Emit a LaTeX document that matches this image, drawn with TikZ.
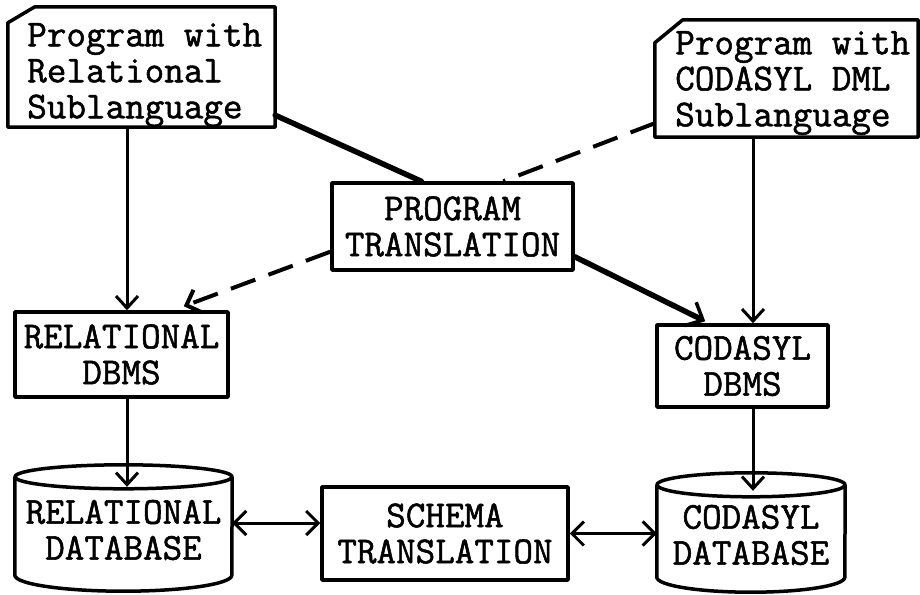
\documentclass[tikz,border=0pt]{standalone}
\usepackage{fontspec}
\newfontfamily\twfont{Latin Modern Mono}[FakeBold=1.4]
\usetikzlibrary{arrows.meta,calc}
\begin{document}
\begin{tikzpicture}[x=1pt,y=-1pt,
  txt/.style={inner sep=0pt, align=center, font=\fontsize{38}{36}\selectfont\twfont},
  toptxt/.style={inner sep=0pt, align=left, font=\fontsize{38}{36}\selectfont\twfont},
  frame/.style={inner sep=0pt},
  box/.style={txt, draw, line width=3.5pt, line join=round},
  border/.style={line width=3.5pt, line join=round},
  thinarrow/.style={line width=3pt, -{Straight Barb[length=12pt,width=22pt]}},
  dblarrow/.style={line width=3pt, {Straight Barb[length=12pt,width=24pt]}-{Straight Barb[length=12pt,width=24pt]}},
  boldline/.style={line width=5.5pt, line cap=round},
  dashline/.style={line width=4pt, dash pattern=on 26pt off 14pt}]
\useasboundingbox (0,0) rectangle (920,594);
\fill[white] (0,0) rectangle (920,594);

% program boxes (frame + text)
\node[frame, minimum width=267pt, minimum height=120pt] (prl) at (141.5,67) {};
\node[toptxt] (prlt) at (144.7,75) {Program with\\Relational\\Sublanguage};
\node[frame, minimum width=263pt, minimum height=117pt] (pcd) at (786.5,78.5) {};
\node[toptxt] (pcdt) at (792.7,83) {Program with\\CODASYL DML\\Sublanguage};

% other boxes
\node[box, minimum width=241pt, minimum height=87pt] (pt) at (452.5,226.5) {PROGRAM\\TRANSLATION};
\node[box, minimum width=213pt, minimum height=85pt] (rdbms) at (121.5,354.5) {RELATIONAL\\DBMS};
\node[box, minimum width=171pt, minimum height=82pt] (cdbms) at (742.5,366) {CODASYL\\DBMS};
\node[box, minimum width=246pt, minimum height=93pt] (st) at (445,533.5) {SCHEMA\\TRANSLATION};
\node[txt, minimum width=217pt, minimum height=106pt] (rdb) at (123.5,530) {RELATIONAL\\DATABASE};
\node[txt, minimum width=188pt, minimum height=100pt] (cdb) at (751,535) {CODASYL\\DATABASE};

% chamfered program boxes
\draw[border] ($(prl.north west)+(0,16)$) -- ($(prl.north west)+(27,0)$) -- (prl.north east) -- (prl.south east) -- (prl.south west) -- cycle;
\draw[border] ($(pcd.north west)+(0,23)$) -- ($(pcd.north west)+(28,0)$) -- (pcd.north east) -- (pcd.south east) -- (pcd.south west) -- cycle;

% cylinders
\draw[border] (rdb.north) ellipse [x radius=108.5pt, y radius=12pt];
\draw[border] (rdb.north west) -- ($(rdb.south west)+(0,-8)$) arc[start angle=180, end angle=360, x radius=108.5pt, y radius=16pt] -- (rdb.north east);
\draw[border] (cdb.north) ellipse [x radius=94pt, y radius=12pt];
\draw[border] (cdb.north west) -- ($(cdb.south west)+(0,-8)$) arc[start angle=180, end angle=360, x radius=94pt, y radius=15pt] -- (cdb.north east);

% helper coordinates
\coordinate (xl) at (127,0);
\coordinate (xr) at (753,0);
\coordinate (dl) at ($(rdb.east)+(0,-7)$);

% connectors
\draw[thinarrow] (prl.south -| xl) -- (rdbms.north -| xl);
\draw[thinarrow] (pcd.south -| xr) -- (cdbms.north -| xr);
\draw[thinarrow] (rdbms.south -| xl) -- ($(rdb.north -| xl)+(0,10)$);
\draw[thinarrow] (cdbms.south -| xr) -- ($(cdb.north -| xr)+(0,6)$);
\draw[boldline] ($(prl.south east)+(0,-12)$) -- ($(pt.north west)+(91,0)$);
\draw[dashline] ($(pcd.south west)+(0,-14)$) -- ($(pt.north west)+(173,0)$);
\draw[dashline, -{Straight Barb[length=12pt,width=24pt]}] ($(pt.south west)+(0,-20)$) -- ($(rdbms.north east)+(-46,-4)$);
\draw[boldline, -{Straight Barb[length=14pt,width=26pt,line width=3.5pt]}] ($(pt.south east)+(0,-15)$) -- ($(cdbms.north west)+(50,-2)$);
\draw[dblarrow] (dl) -- (dl -| st.west);
\draw[dblarrow] (st.east) -- (st.east -| cdb.west);
\end{tikzpicture}
\end{document}
